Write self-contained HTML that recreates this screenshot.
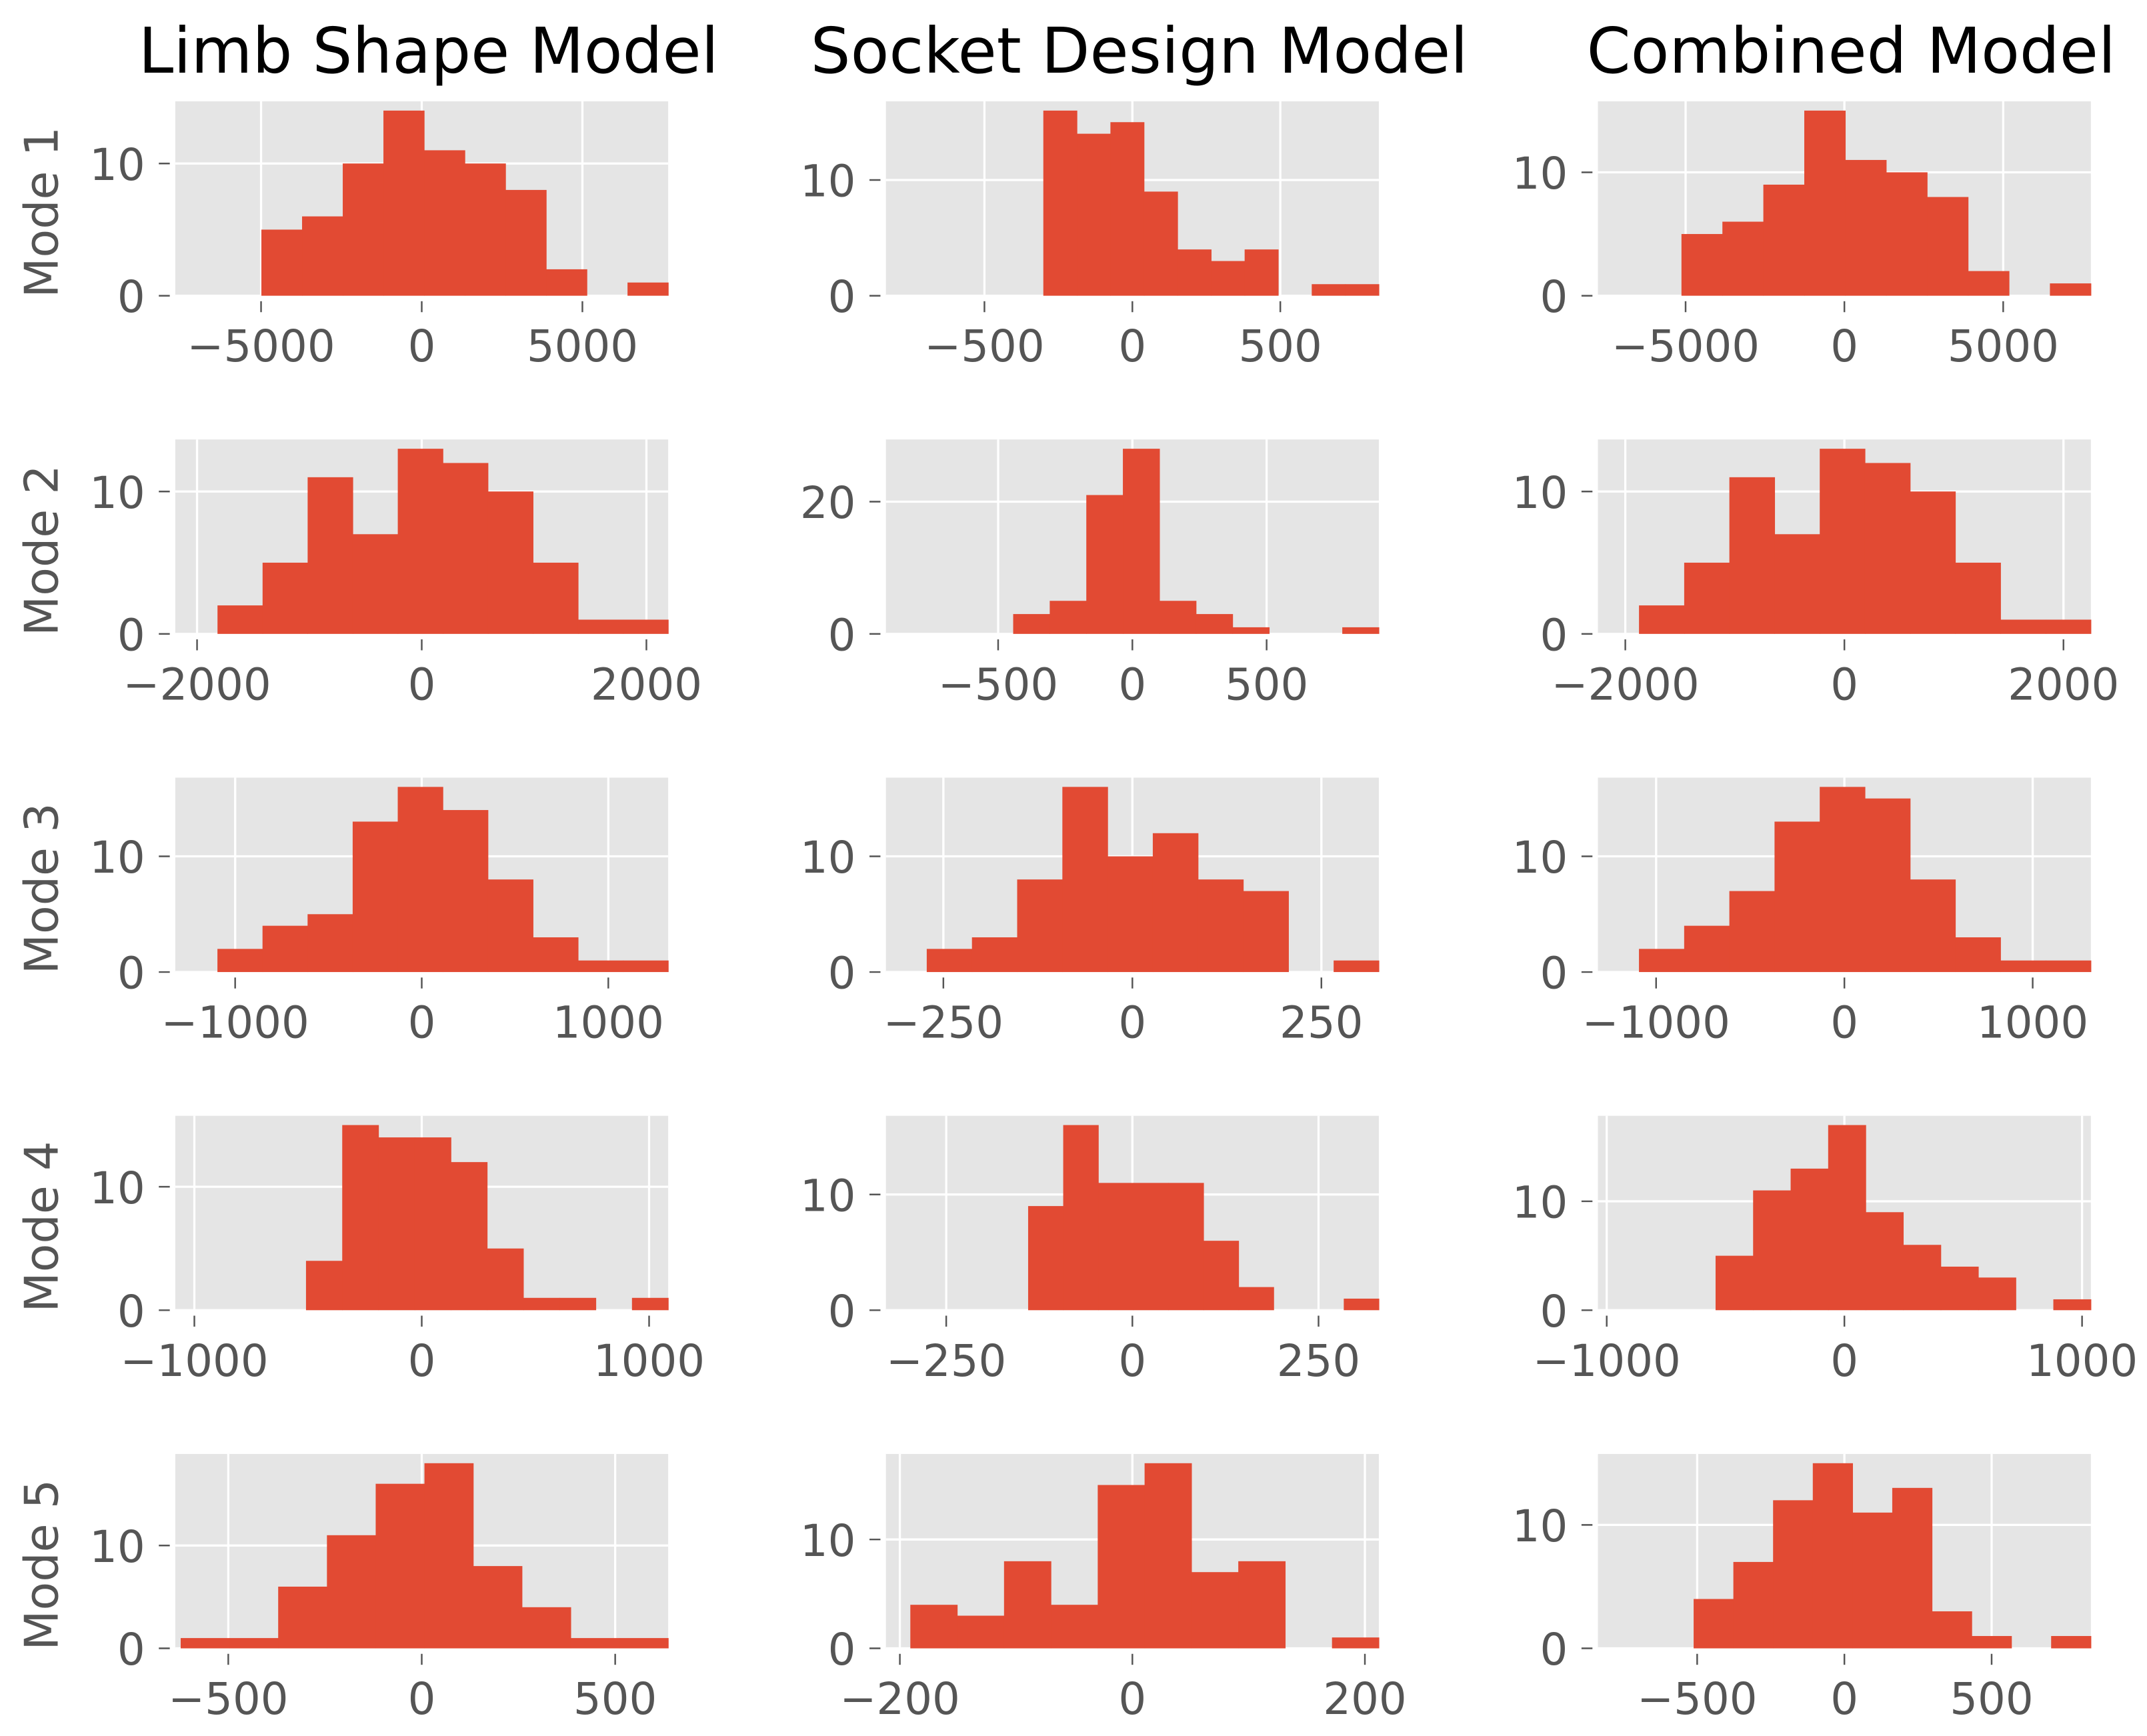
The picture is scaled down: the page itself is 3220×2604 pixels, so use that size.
<!DOCTYPE html>
<html><head><meta charset="utf-8"><style>
html,body{margin:0;padding:0;background:#fff;}
svg{display:block;}
text{font-family:"DejaVu Sans","Liberation Sans",sans-serif;}
</style></head><body>
<svg id="fig" width="3220" height="2604" viewBox="0 0 1568 1268" xmlns="http://www.w3.org/2000/svg"></svg>
<script>
// ---- data (per panel: row-major, 5 rows x 3 cols) ----
const colTitles = ["Limb Shape Model", "Socket Design Model", "Combined Model"];
const rowLabels = ["Mode 1", "Mode 2", "Mode 3", "Mode 4", "Mode 5"];
const xLimits = [7670, 833, 7760, 2194, 918, 2250, 1321, 326, 1309, 1084, 331, 1037, 637, 212, 837];
const binStarts = [-4990, -301, -5130, -1818, -444, -1875, -1095, -272, -1091, -509, -140, -542, -623, -191, -512];
const binCounts = [
  [5,6,10,14,11,10,8,2,0,1],
  [16,14,15,9,4,3,4,0,1,1],
  [5,6,9,15,11,10,8,2,0,1],
  [2,5,11,7,13,12,10,5,1,1],
  [3,5,21,28,5,3,1,0,0,1],
  [2,5,11,7,13,12,10,5,1,1],
  [2,4,5,13,16,14,8,3,1,1],
  [2,3,8,16,10,12,8,7,0,1],
  [2,4,7,13,16,15,8,3,1,1],
  [4,15,14,14,12,5,1,1,0,1],
  [9,16,11,11,11,6,2,0,0,1],
  [5,11,13,17,9,6,4,3,0,1],
  [1,1,6,11,16,18,8,4,1,1],
  [4,3,8,4,15,17,7,8,0,1],
  [4,7,12,15,11,13,3,1,0,1]
];
const xTicks = [
  [-5000,0,5000],[-500,0,500],[-5000,0,5000],
  [-2000,0,2000],[-500,0,500],[-2000,0,2000],
  [-1000,0,1000],[-250,0,250],[-1000,0,1000],
  [-1000,0,1000],[-250,0,250],[-1000,0,1000],
  [-500,0,500],[-200,0,200],[-500,0,500]
];
const yTicks = [
  [0,10],[0,10],[0,10],
  [0,10],[0,20],[0,10],
  [0,10],[0,10],[0,10],
  [0,10],[0,10],[0,10],
  [0,10],[0,10],[0,10]
];
// ---- layout ----
const colX = [128, 647, 1167];
const rowY = [74, 321, 568, 815, 1062];
const AW = 360, AH = 142;
const NS = "http://www.w3.org/2000/svg";
const svg = document.getElementById("fig");
function mk(tag, attrs, parent){
  const e = document.createElementNS(NS, tag);
  for (const k in attrs) e.setAttribute(k, attrs[k]);
  (parent||svg).appendChild(e);
  return e;
}
function fmt(v){ return v < 0 ? "\u2212" + Math.abs(v) : String(v); }

colTitles.forEach((t, c) => {
  const e = mk("text", {x: colX[c] + AW/2 + 5, y: 53, "text-anchor": "middle", "font-size": 46, fill: "#000"});
  e.textContent = t;
  
  
});
rowLabels.forEach((t, r) => {
  const cy = rowY[r] + AH/2 + 10;
  const e = mk("text", {x: 0, y: 0, transform: `translate(42,${cy}) rotate(-90)`, "text-anchor": "middle", "font-size": 34, fill: "#555"});
  e.textContent = t;
  
  
});

for (let r = 0; r < 5; r++) {
  for (let c = 0; c < 3; c++) {
    const i = r*3 + c;
    const x0 = colX[c], y0 = rowY[r];
    const L = xLimits[i];
    const counts = binCounts[i];
    const ymax = Math.max(...counts) * 1.05;
    const sx = v => x0 + (v + L) / (2*L) * AW;
    const sy = v => y0 + AH - v / ymax * AH;
    const g = mk("g", {});
    
    
    const bg = mk("rect", {x: x0, y: y0, width: AW, height: AH, fill: "#E5E5E5"}, g);
    
    
    xTicks[i].forEach(t => {
      const gl = mk("line", {x1: sx(t), x2: sx(t), y1: y0, y2: y0+AH, stroke: "#fff", "stroke-width": 1.6}, g);
      
      
    });
    yTicks[i].forEach(t => {
      const gl = mk("line", {x1: x0, x2: x0+AW, y1: sy(t), y2: sy(t), stroke: "#fff", "stroke-width": 1.6}, g);
      
      
    });
    const bw = (L - binStarts[i]) / counts.length;
    counts.forEach((n, k) => {
      if (n <= 0) return;
      const a = binStarts[i] + k*bw, b = a + bw;
      const bar = mk("rect", {x: sx(a), y: sy(n), width: sx(b) - sx(a) + 0.3, height: sy(0) - sy(n), fill: "#E24A33"}, g);
      
      
    });
    xTicks[i].forEach(t => {
      const tk = mk("line", {x1: sx(t), x2: sx(t), y1: y0+AH+4, y2: y0+AH+12, stroke: "#555", "stroke-width": 1.2}, g);
      
      
      const lb = mk("text", {x: sx(t), y: y0+AH+48, "text-anchor": "middle", "font-size": 32, fill: "#555"}, g);
      lb.textContent = fmt(t);
      
      
    });
    yTicks[i].forEach(t => {
      const tk = mk("line", {x1: x0-12, x2: x0-4, y1: sy(t), y2: sy(t), stroke: "#555", "stroke-width": 1.2}, g);
      
      
      const lb = mk("text", {x: x0-22, y: sy(t)+12, "text-anchor": "end", "font-size": 32, fill: "#555"}, g);
      lb.textContent = fmt(t);
      
      
    });
  }
}
</script>
</body></html>
